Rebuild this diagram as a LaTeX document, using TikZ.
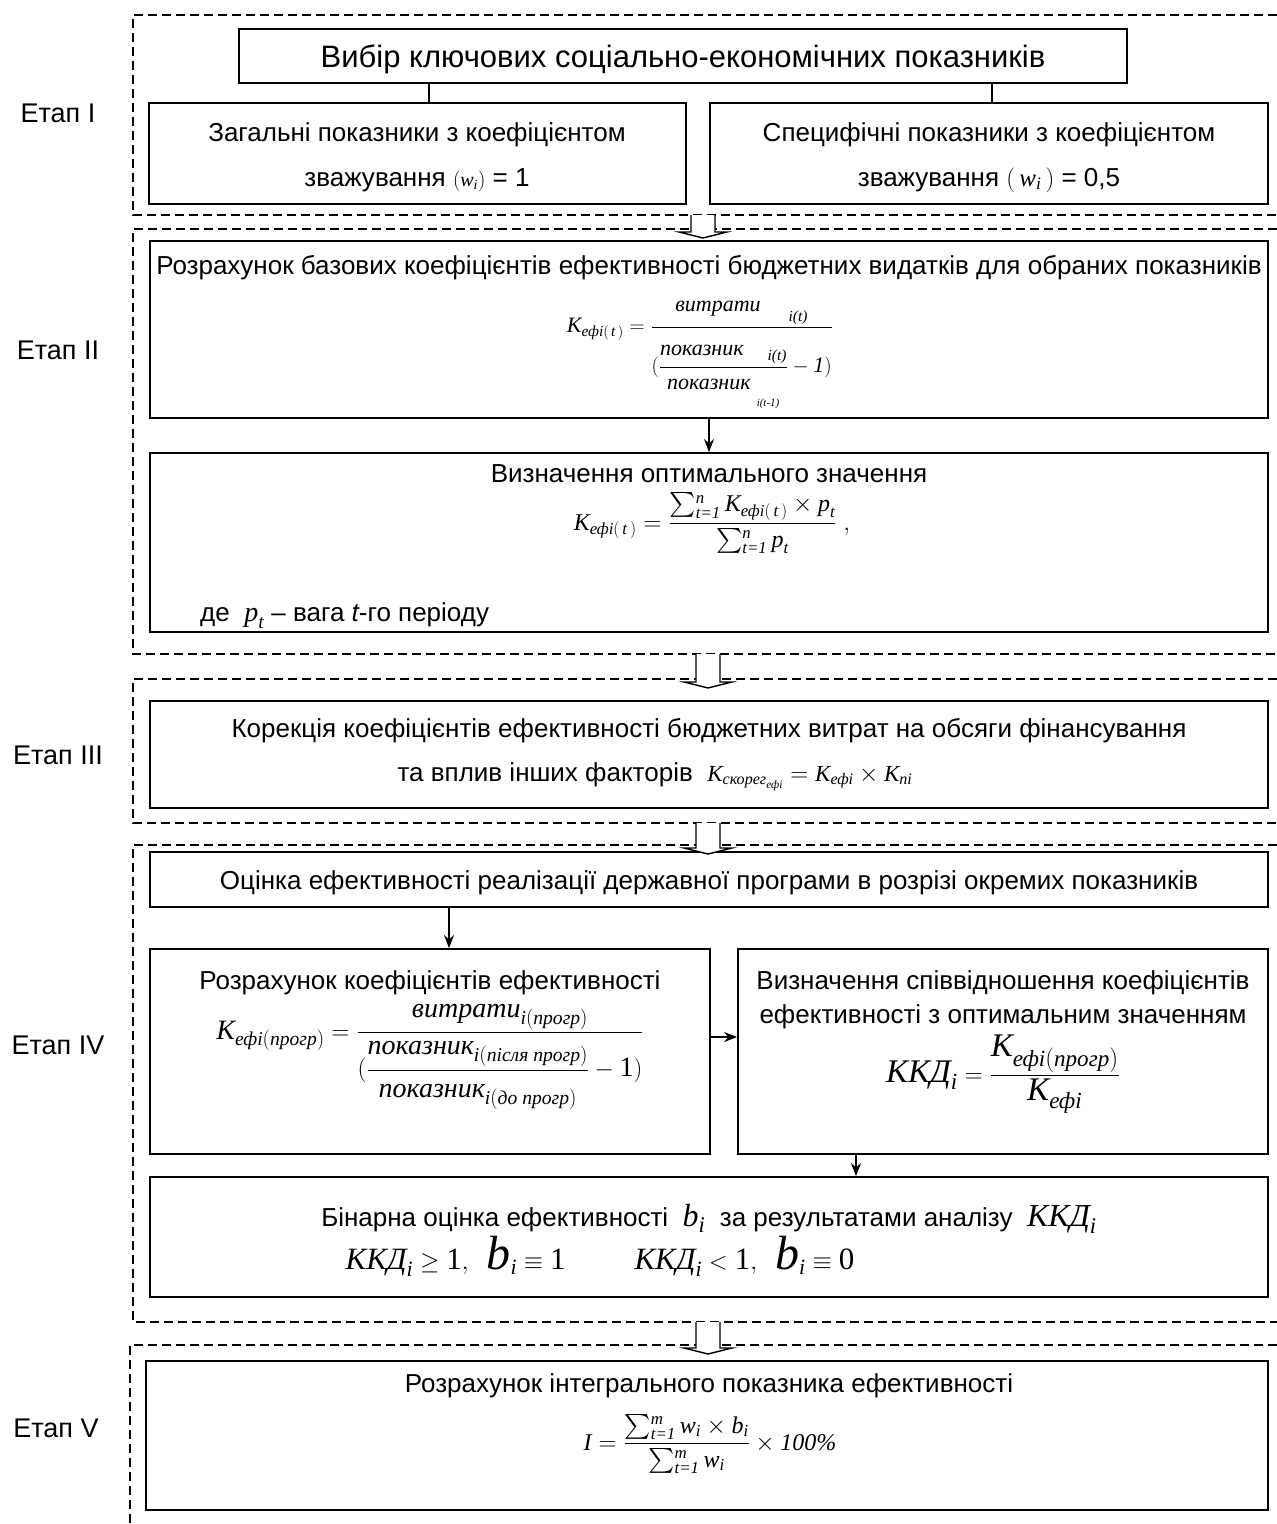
\documentclass[tikz,border=0pt]{standalone}
\usepackage{amsmath}
\usepackage{fontspec}
\setmainfont{Liberation Sans}
\newfontfamily\tnr{Liberation Serif}
\usetikzlibrary{arrows.meta}
\newcommand\fsz[2]{\fontsize{#1}{#2}\selectfont}
\newcommand\ti[1]{\text{\tnr\itshape #1}}
\newcommand\tu[1]{\text{\tnr\upshape #1}}
\newcommand\lowsup[1]{\raisebox{-5pt}{$\scriptstyle\ti{#1}$}}
\newcommand\hollowarrow[4]{%
  \draw[hollow] (#1-12,#2) -- (#1-12,#3) -- (#1-24,#3) -- (#1,#4) -- (#1+24,#3) -- (#1+12,#3) -- (#1+12,#2);}
\begin{document}
\begin{tikzpicture}[x=1pt,y=-1pt,
  box/.style={draw, line width=1.8pt, rectangle, inner sep=0pt},
  frame/.style={line width=1.2pt, dash pattern=on 9pt off 5pt},
  arr/.style={line width=1.4pt, -{Stealth[length=13pt,width=10pt]}},
  link/.style={line width=1.1pt},
  txt/.style={font=\fsz{26}{31}, inner sep=0pt},
  stage/.style={font=\fsz{27}{32}, inner sep=0pt, anchor=base},
  hollow/.style={draw, line width=1.4pt, fill=white, line join=miter}]
\useasboundingbox (0,0) rectangle (1277,1524);
% stage frames
\draw[frame] (1277,15) -- (133,15) -- (133,215) -- (1277,215);
\draw[frame] (1277,229) -- (133,229) -- (133,654) -- (1277,654);
\draw[frame] (1277,679) -- (133,679) -- (133,823) -- (1277,823);
\draw[frame] (1277,845) -- (133,845) -- (133,1322) -- (1277,1322);
\draw[frame] (1277,1345) -- (130,1345) -- (130,1524);
% stage labels
\node[stage] (s1) at (58,122) {Етап I};
\node[stage] (s2) at (58,359) {Етап II};
\node[stage] (s3) at (58,764) {Етап III};
\node[stage] (s4) at (58,1054) {Етап IV};
\node[stage] (s5) at (56,1437) {Етап V};
% boxes
\node[box, minimum width=888pt, minimum height=54pt] (b1) at (683,56) {};
\node[box, minimum width=537pt, minimum height=101pt] (b1l) at (417.5,153.5) {};
\node[box, minimum width=558pt, minimum height=101pt] (b1r) at (989,153.5) {};
\node[box, minimum width=1118pt, minimum height=177pt] (b2a) at (709,329.5) {};
\node[box, minimum width=1118pt, minimum height=179pt] (b2b) at (709,542.5) {};
\node[box, minimum width=1118pt, minimum height=107pt] (b3) at (709,754.5) {};
\node[box, minimum width=1118pt, minimum height=55pt] (b4a) at (709,879.5) {};
\node[box, minimum width=560pt, minimum height=205pt] (b4b) at (430,1051.5) {};
\node[box, minimum width=530pt, minimum height=205pt] (b4c) at (1003,1051.5) {};
\node[box, minimum width=1118pt, minimum height=120pt] (b4d) at (709,1237) {};
\node[box, minimum width=1122pt, minimum height=149pt] (b5) at (707,1435.5) {};
% texts stage I
\node[inner sep=0pt, anchor=base, font=\fsz{31}{36}] (t1) at (683,67) {Вибір ключових соціально-економічних показників};
\node[txt, anchor=base] (t1l1) at (417,141) {Загальні показники з коефіцієнтом};
\node[txt, anchor=base] (t1l2) at (417,186) {зважування {\fsz{20}{24}$(\ti{w}_{\ti{i}})$} = 1};
\node[txt, anchor=base] (t1r1) at (989,141) {Специфічні показники з коефіцієнтом};
\node[txt, anchor=base] (t1r2) at (989,186) {зважування {\fsz{25}{28}$(\,\ti{w}_{\ti{i}}\,)$} = 0,5};
% stage II
\node[txt, anchor=base] (t2a) at (709,274) {Розрахунок базових коефіцієнтів ефективності бюджетних видатків для обраних показників};
\node[inner sep=0pt, anchor=base, font=\fsz{22}{26}] (f2a) at (700,332.5)
  {$\ti{K}_{\ti{ефі}(\,\ti{t}\,)} = \dfrac{\ti{витрати}\rule[-9pt]{0pt}{0pt}_{\;\;\;\;\;\;\;\ti{i(t)}}}{\rule{0pt}{42pt}(\dfrac{\ti{показник}\rule[-5pt]{0pt}{0pt}_{\;\;\;\;\;\;\ti{i(t)}}}{\rule{0pt}{20pt}\ti{показник}_{\raisebox{-13pt}{$\scriptscriptstyle\;\;\ti{i(t-1)}$}}} - \ti{1})}$};
\node[txt, anchor=base] (t2b) at (709,482) {Визначення оптимального значення};
\node[inner sep=0pt, anchor=base, font=\fsz{24}{29}] (f2b) at (712,530)
  {$\ti{K}_{\ti{ефі}(\,\ti{t}\,)} = \dfrac{\sum\nolimits_{\ti{t=1}}^{\lowsup{n}} \ti{K}_{\ti{ефі}(\,\ti{t}\,)} \times \ti{p}_{\ti{t}}}{\sum\nolimits_{\ti{t=1}}^{\lowsup{n}} \ti{p}_{\ti{t}}}\;,$};
\node[txt, anchor=base west] (t2c) at (200,621) {де \ {\fsz{28}{32}$\ti{p}_{\ti{t}}$} – вага {\itshape t}-го періоду};
% stage III
\node[txt, anchor=base] (t3a) at (709,737) {Корекція коефіцієнтів ефективності бюджетних витрат на обсяги фінансування};
\node[txt, anchor=base] (t3b) at (655,781) {та вплив інших факторів \ {\fsz{23}{27}$\ti{K}_{\ti{скорег}_{\ti{ефі}}} = \ti{K}_{\ti{ефі}} \times \ti{K}_{\ti{пі}}$}};
% stage IV
\node[txt, anchor=base] (t4a) at (709,889) {Оцінка ефективності реалізації державної програми в розрізі окремих показників};
\node[txt, anchor=base] (t4b) at (430,989) {Розрахунок коефіцієнтів ефективності};
\node[inner sep=0pt, anchor=base, font=\fsz{28}{33}] (f4b) at (430,1039)
  {$\ti{K}_{\ti{ефі}(\ti{прогр})} = \dfrac{\ti{витрати}\rule[-4pt]{0pt}{0pt}_{\ti{i}(\ti{прогр})}}{\rule{0pt}{40pt}(\dfrac{\ti{показник}\rule[-4pt]{0pt}{0pt}_{\ti{i}(\ti{після прогр})}}{\rule{0pt}{24pt}\ti{показник}_{\ti{i}(\ti{до прогр})}} - \tu{1})}$};
\node[txt, anchor=base] (t4c1) at (1003,989) {Визначення співвідношення коефіцієнтів};
\node[txt, anchor=base] (t4c2) at (1003,1023) {ефективності з оптимальним значенням};
\node[inner sep=0pt, anchor=base, font=\fsz{33}{38}] (f4c) at (1003,1082)
  {$\ti{ККД}_{\ti{i}} = \dfrac{\ti{K}_{\ti{ефі}(\ti{прогр})}}{\ti{K}_{\ti{ефі}}}$};
\node[txt, anchor=base] (t4d1) at (709,1226) {Бінарна оцінка ефективності \ {\fsz{32}{36}$\ti{b}_{\ti{i}}$} \ за результатами аналізу \ {\fsz{32}{36}$\ti{ККД}_{\ti{i}}$}};
\node[inner sep=0pt, anchor=base, font=\fsz{31}{36}] (t4d2) at (600,1269)
  {$\ti{ККД}_{\ti{i}} \ge \tu{1},\;\; \text{\fsz{48}{50}\tnr\itshape b}_{\ti{i}} \equiv \tu{1} \qquad\; \ti{ККД}_{\ti{i}} < \tu{1},\;\; \text{\fsz{48}{50}\tnr\itshape b}_{\ti{i}} \equiv \tu{0}$};
% stage V
\node[txt, anchor=base] (t5) at (709,1392) {Розрахунок інтегрального показника ефективності};
\node[inner sep=0pt, anchor=base, font=\fsz{24}{28}] (f5) at (710,1450)
  {$\ti{I} = \dfrac{\sum\nolimits_{\ti{t=1}}^{\lowsup{m}} \ti{w}_{\ti{i}} \times \ti{b}_{\ti{i}}}{\sum\nolimits_{\ti{t=1}}^{\lowsup{m}} \ti{w}_{\ti{i}}} \times \ti{100\%}$};
% connectors
\coordinate (c1) at (429,0);
\coordinate (c2) at (992,0);
\coordinate (c3) at (449,0);
\coordinate (c4) at (0,1037);
\coordinate (c5) at (856,0);
\draw[link] (b1.south -| c1) -- (b1l.north -| c1);
\draw[link] (b1.south -| c2) -- (b1r.north -| c2);
\draw[arr] (b2a.south) -- (b2b.north);
\draw[arr] (b4a.south -| c3) -- (b4b.north -| c3);
\draw[arr] (b4b.east |- c4) -- (b4c.west |- c4);
\draw[arr] (b4c.south -| c5) -- (b4d.north -| c5);
% hollow arrows between stages
\hollowarrow{703}{215}{232}{238}
\hollowarrow{708}{654}{682}{688}
\hollowarrow{708}{823}{848}{854}
\hollowarrow{708}{1322}{1348}{1354}
\end{tikzpicture}
\end{document}
